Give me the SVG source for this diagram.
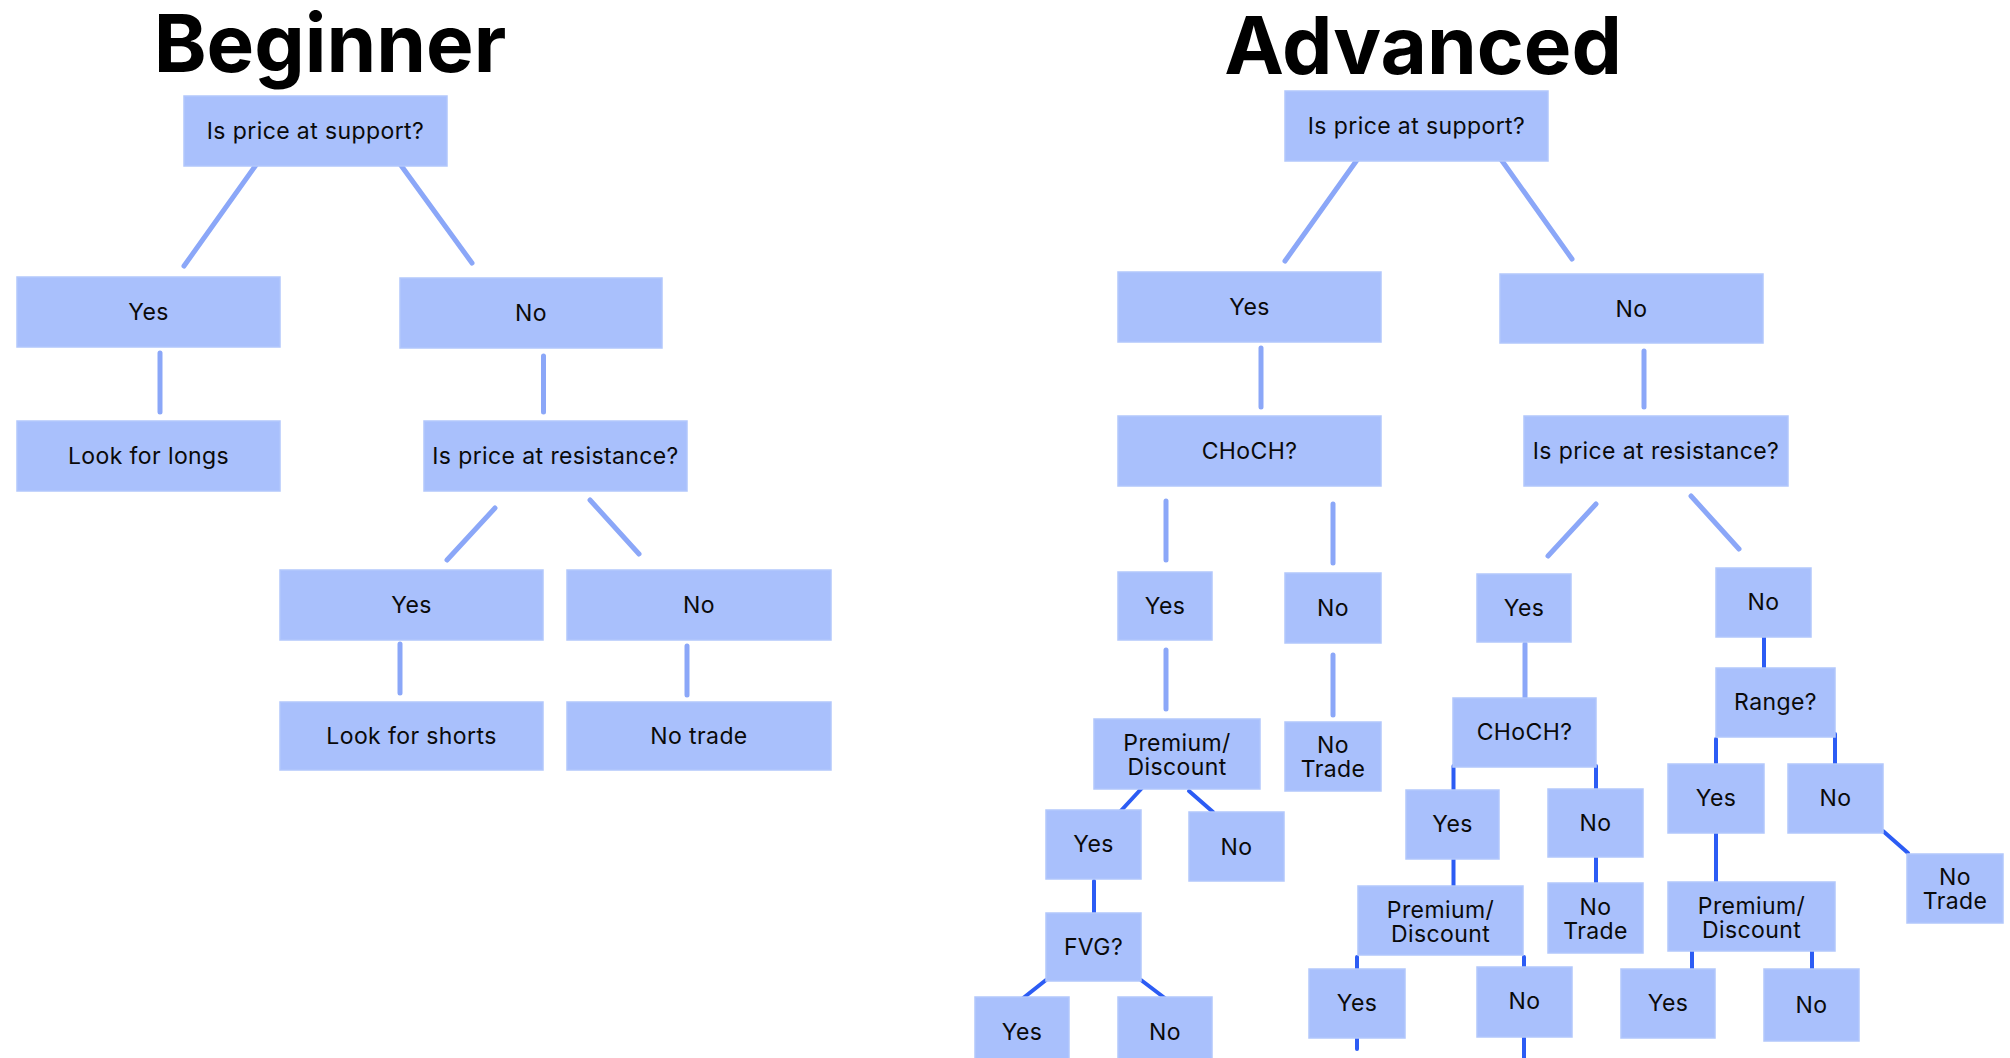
<svg xmlns="http://www.w3.org/2000/svg" width="2010" height="1058" viewBox="0 0 2010 1058">
<style>
.bx{fill:#a9c0fc;stroke:#b2c7fc;stroke-width:1.5}
.t{font-family:Inter,"Liberation Sans",sans-serif;font-size:23px;letter-spacing:0.4px;fill:#0a0a0a;text-anchor:middle}
.h{font-family:Inter,"Liberation Sans",sans-serif;font-size:80px;font-weight:700;fill:#000;text-anchor:middle}
.lt{stroke:#8ba7f8;stroke-width:5;stroke-linecap:round;fill:none}
.dk{stroke:#2c5cf4;stroke-width:4;stroke-linecap:round;fill:none}
</style>
<rect width="2010" height="1058" fill="#fff"/>
<text class="h" x="330" y="72">Beginner</text>
<text class="h" x="1423" y="74">Advanced</text>
<g id="connectors">
<line class="lt" x1="256" y1="165" x2="184" y2="266"/>
<line class="lt" x1="400" y1="164" x2="472" y2="263"/>
<line class="lt" x1="160" y1="353" x2="160" y2="412"/>
<line class="lt" x1="543.5" y1="356" x2="543.5" y2="412"/>
<line class="lt" x1="495" y1="508" x2="447" y2="560"/>
<line class="lt" x1="590" y1="500" x2="639" y2="554"/>
<line class="lt" x1="400" y1="644" x2="400" y2="693"/>
<line class="lt" x1="687" y1="646" x2="687" y2="695"/>
<line class="lt" x1="1357" y1="160" x2="1285" y2="261"/>
<line class="lt" x1="1500" y1="158" x2="1572" y2="259"/>
<line class="lt" x1="1261" y1="348" x2="1261" y2="407"/>
<line class="lt" x1="1644" y1="351" x2="1644" y2="407"/>
<line class="lt" x1="1166" y1="501" x2="1166" y2="560"/>
<line class="lt" x1="1333" y1="504" x2="1333" y2="563"/>
<line class="lt" x1="1596" y1="504" x2="1548" y2="556"/>
<line class="lt" x1="1691" y1="496" x2="1739" y2="549"/>
<line class="lt" x1="1166" y1="650" x2="1166" y2="709"/>
<line class="lt" x1="1333" y1="655" x2="1333" y2="715"/>
<line class="lt" x1="1525" y1="644" x2="1525" y2="703"/>
<line class="dk" x1="1142" y1="788" x2="1117" y2="815"/>
<line class="dk" x1="1189" y1="791" x2="1213" y2="812"/>
<line class="dk" x1="1094" y1="881" x2="1094" y2="915"/>
<line class="dk" x1="1046" y1="980" x2="1022" y2="999"/>
<line class="dk" x1="1141" y1="980" x2="1166" y2="999"/>
<line class="dk" x1="1764" y1="635" x2="1764" y2="671"/>
<line class="dk" x1="1716" y1="739" x2="1716" y2="763"/>
<line class="dk" x1="1835" y1="734" x2="1835" y2="769"/>
<line class="dk" x1="1716" y1="833" x2="1716" y2="885"/>
<line class="dk" x1="1883" y1="831" x2="1908" y2="853"/>
<line class="dk" x1="1692" y1="947" x2="1692" y2="970"/>
<line class="dk" x1="1812" y1="951" x2="1812" y2="971"/>
<line class="dk" x1="1453.5" y1="766" x2="1453.5" y2="794"/>
<line class="dk" x1="1596" y1="766" x2="1596" y2="790"/>
<line class="dk" x1="1453.5" y1="853" x2="1453.5" y2="892"/>
<line class="dk" x1="1596" y1="856" x2="1596" y2="885"/>
<line class="dk" x1="1357" y1="957" x2="1357" y2="973"/>
<line class="dk" x1="1524" y1="957" x2="1524" y2="969"/>
<line class="dk" x1="1357" y1="1037" x2="1357" y2="1049"/>
<line class="dk" x1="1524" y1="1038" x2="1524" y2="1060"/>
</g>
<g id="b1"><rect class="bx" x="184" y="96" width="263" height="70"/><text class="t" x="315.5" y="139">Is price at support?</text></g>
<g id="b2"><rect class="bx" x="17" y="277" width="263" height="70"/><text class="t" x="148.5" y="320">Yes</text></g>
<g id="b3"><rect class="bx" x="400" y="278" width="262" height="70"/><text class="t" x="531" y="321">No</text></g>
<g id="b4"><rect class="bx" x="17" y="421" width="263" height="70"/><text class="t" x="148.5" y="464">Look for longs</text></g>
<g id="b5"><rect class="bx" x="424" y="421" width="263" height="70"/><text class="t" x="555.5" y="464">Is price at resistance?</text></g>
<g id="b6"><rect class="bx" x="280" y="570" width="263" height="70"/><text class="t" x="411.5" y="613">Yes</text></g>
<g id="b7"><rect class="bx" x="567" y="570" width="264" height="70"/><text class="t" x="699" y="613">No</text></g>
<g id="b8"><rect class="bx" x="280" y="702" width="263" height="68"/><text class="t" x="411.5" y="744">Look for shorts</text></g>
<g id="b9"><rect class="bx" x="567" y="702" width="264" height="68"/><text class="t" x="699" y="744">No trade</text></g>
<g id="a1"><rect class="bx" x="1285" y="91" width="263" height="70"/><text class="t" x="1416.5" y="134">Is price at support?</text></g>
<g id="a2"><rect class="bx" x="1118" y="272" width="263" height="70"/><text class="t" x="1249.5" y="315">Yes</text></g>
<g id="a3"><rect class="bx" x="1500" y="274" width="263" height="69"/><text class="t" x="1631.5" y="317">No</text></g>
<g id="a4"><rect class="bx" x="1118" y="416" width="263" height="70"/><text class="t" x="1249.5" y="459">CHoCH?</text></g>
<g id="a5"><rect class="bx" x="1524" y="416" width="264" height="70"/><text class="t" x="1656" y="459">Is price at resistance?</text></g>
<g id="a6"><rect class="bx" x="1118" y="572" width="94" height="68"/><text class="t" x="1165" y="614">Yes</text></g>
<g id="a7"><rect class="bx" x="1285" y="573" width="96" height="70"/><text class="t" x="1333" y="616">No</text></g>
<g id="a8"><rect class="bx" x="1094" y="719" width="166" height="70"/><text class="t" x="1177" y="751">Premium/</text><text class="t" x="1177" y="775">Discount</text></g>
<g id="a9"><rect class="bx" x="1285" y="722" width="96" height="69"/><text class="t" x="1333" y="753">No</text><text class="t" x="1333" y="777">Trade</text></g>
<g id="a10"><rect class="bx" x="1046" y="810" width="95" height="69"/><text class="t" x="1093.5" y="852">Yes</text></g>
<g id="a11"><rect class="bx" x="1189" y="812" width="95" height="69"/><text class="t" x="1236.5" y="855">No</text></g>
<g id="a12"><rect class="bx" x="1046" y="913" width="95" height="68"/><text class="t" x="1093.5" y="955">FVG?</text></g>
<g id="a13"><rect class="bx" x="975" y="997" width="94" height="70"/><text class="t" x="1022" y="1040">Yes</text></g>
<g id="a14"><rect class="bx" x="1118" y="997" width="94" height="70"/><text class="t" x="1165" y="1040">No</text></g>
<g id="a15"><rect class="bx" x="1477" y="574" width="94" height="68"/><text class="t" x="1524" y="616">Yes</text></g>
<g id="a16"><rect class="bx" x="1716" y="568" width="95" height="69"/><text class="t" x="1763.5" y="610">No</text></g>
<g id="a17"><rect class="bx" x="1453" y="698" width="143" height="69"/><text class="t" x="1524.5" y="740">CHoCH?</text></g>
<g id="a18"><rect class="bx" x="1716" y="668" width="119" height="69"/><text class="t" x="1775.5" y="710">Range?</text></g>
<g id="a19"><rect class="bx" x="1668" y="764" width="96" height="69"/><text class="t" x="1716" y="806">Yes</text></g>
<g id="a20"><rect class="bx" x="1788" y="764" width="95" height="69"/><text class="t" x="1835.5" y="806">No</text></g>
<g id="a21"><rect class="bx" x="1907" y="854" width="96" height="69"/><text class="t" x="1955" y="885">No</text><text class="t" x="1955" y="909">Trade</text></g>
<g id="a22"><rect class="bx" x="1668" y="882" width="167" height="69"/><text class="t" x="1751.5" y="914">Premium/</text><text class="t" x="1751.5" y="938">Discount</text></g>
<g id="a23"><rect class="bx" x="1621" y="969" width="94" height="69"/><text class="t" x="1668" y="1011">Yes</text></g>
<g id="a24"><rect class="bx" x="1764" y="969" width="95" height="72"/><text class="t" x="1811.5" y="1013">No</text></g>
<g id="a25"><rect class="bx" x="1406" y="790" width="93" height="69"/><text class="t" x="1452.5" y="832">Yes</text></g>
<g id="a26"><rect class="bx" x="1548" y="789" width="95" height="68"/><text class="t" x="1595.5" y="831">No</text></g>
<g id="a27"><rect class="bx" x="1358" y="886" width="165" height="69"/><text class="t" x="1440.5" y="918">Premium/</text><text class="t" x="1440.5" y="942">Discount</text></g>
<g id="a28"><rect class="bx" x="1548" y="883" width="95" height="70"/><text class="t" x="1595.5" y="915">No</text><text class="t" x="1595.5" y="939">Trade</text></g>
<g id="a29"><rect class="bx" x="1309" y="969" width="96" height="69"/><text class="t" x="1357" y="1011">Yes</text></g>
<g id="a30"><rect class="bx" x="1477" y="967" width="95" height="70"/><text class="t" x="1524.5" y="1009">No</text></g>
</svg>
